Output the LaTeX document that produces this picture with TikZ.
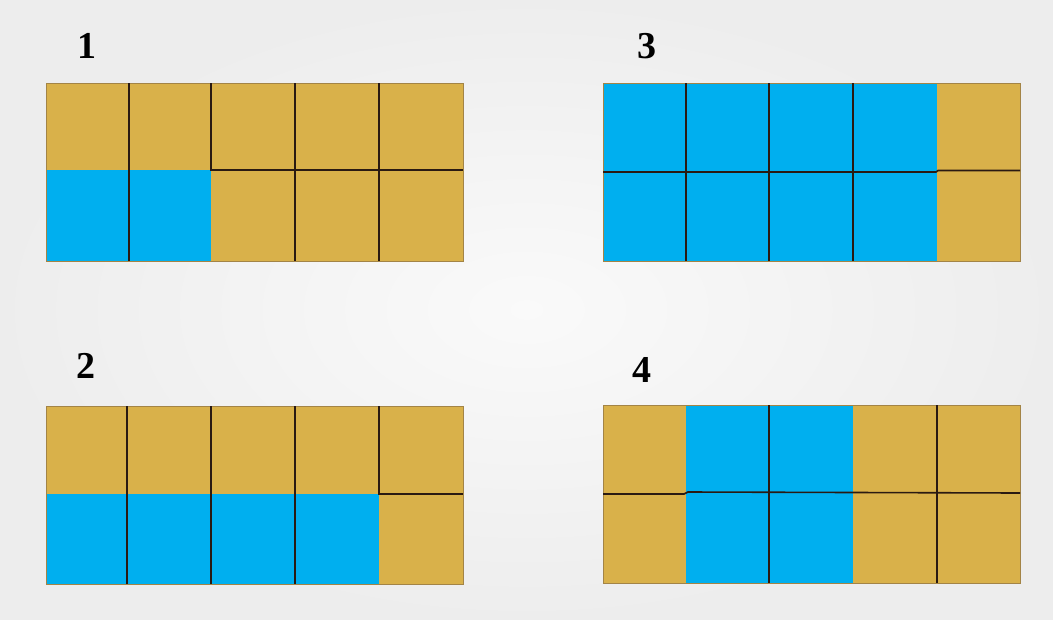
\documentclass[tikz,border=0pt]{standalone}
\usepackage{fontspec}
\setmainfont{Liberation Serif}
\definecolor{gold}{HTML}{D9B14A}
\definecolor{sky}{HTML}{00AFEF}
\definecolor{rim}{HTML}{A38446}
\definecolor{sepc}{HTML}{2A1A12}
\tikzset{
  frame/.style={draw=rim, line width=0.9pt},
  sepline/.style={draw=sepc, line width=1.6pt},
  lab/.style={font=\fontsize{38}{38}\selectfont\bfseries, inner sep=0pt}
}
\begin{document}
\begin{tikzpicture}[x=1pt,y=-1pt]
\shade[inner color=black!2, outer color=black!7] (0,0) rectangle (1053,619);
\useasboundingbox (0,0) rectangle (1053,619);
% labels
\node[lab] (l1) at (87,46) {1};
\node[lab] (l3) at (647,46) {3};
\node[lab] (l2) at (86,366) {2};
\node[lab] (l4) at (642,370) {4};
% grid 1
\fill[gold] (46,83) rectangle (463,170);
\fill[sky] (46,170) rectangle (211,261);
\fill[gold] (211,170) rectangle (463,261);
\draw[frame] (46,83) rectangle (463,261);
\draw[sepline] (129,83) -- (129,261);
\draw[sepline] (211,83) -- (211,170) -- (463,170);
\draw[sepline] (295,83) -- (295,261);
\draw[sepline] (379,83) -- (379,261);
% grid 2
\fill[gold] (46,406) rectangle (463,494);
\fill[sky] (46,494) rectangle (379,584);
\fill[gold] (379,494) rectangle (463,584);
\draw[frame] (46,406) rectangle (463,584);
\draw[sepline] (127,406) -- (127,584);
\draw[sepline] (211,406) -- (211,584);
\draw[sepline] (295,406) -- (295,584);
\draw[sepline] (379,406) -- (379,494) -- (463,494);
% grid 3
\fill[sky] (603,83) rectangle (937,261);
\fill[gold] (937,83) rectangle (1020,261);
\draw[frame] (603,83) rectangle (1020,261);
\draw[sepline] (686,83) -- (686,261);
\draw[sepline] (769,83) -- (769,261);
\draw[sepline] (853,83) -- (853,261);
\draw[sepline] (603,172) -- (936,172) -- (938,170.5) -- (1020,170.5);
% grid 4
\fill[gold] (603,405) rectangle (686,583);
\fill[sky] (686,405) rectangle (853,583);
\fill[gold] (853,405) rectangle (1020,583);
\draw[frame] (603,405) rectangle (1020,583);
\draw[sepline] (769,405) -- (769,583);
\draw[sepline] (937,405) -- (937,583);
\draw[sepline] (603,494) -- (684,494) -- (688,492) -- (1020,493);
\end{tikzpicture}
\end{document}
